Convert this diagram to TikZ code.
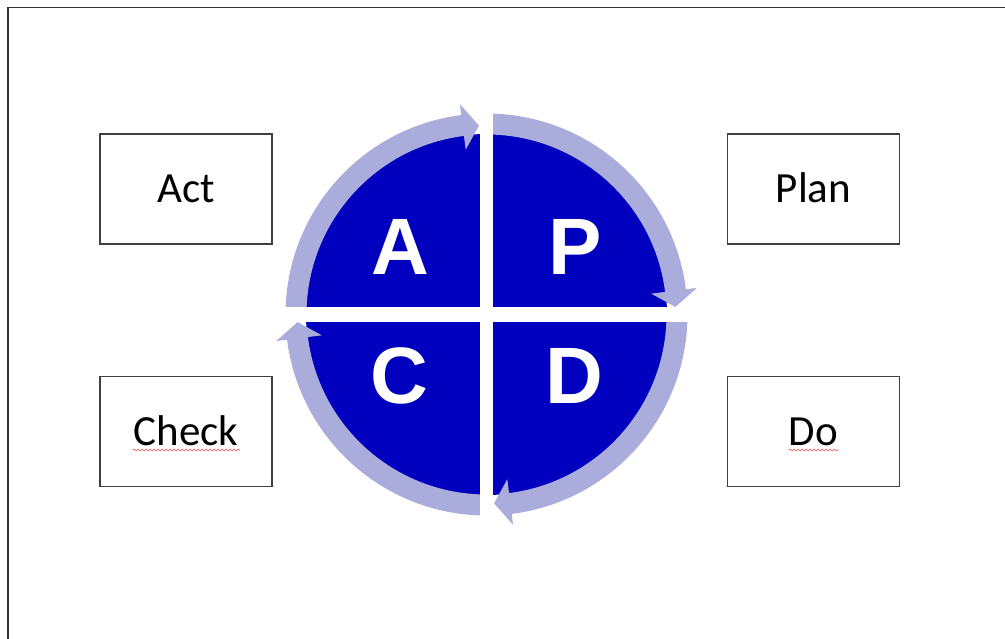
\documentclass[tikz,border=0pt]{standalone}
\usepackage{fontspec}
\setmainfont{Carlito}
\newfontfamily\letterfont{Liberation Sans}
\usetikzlibrary{decorations.pathmorphing}
\definecolor{pdcablue}{HTML}{0000BE}
\definecolor{pdcaband}{HTML}{AAACDC}
\definecolor{boxline}{HTML}{404040}
\definecolor{spellred}{HTML}{E05050}
\tikzset{
  labelbox/.style={draw=boxline, line width=1.2pt, fill=white, minimum width=172pt, minimum height=110pt,
    inner sep=0pt, font=\fontsize{43}{43}\selectfont, text height=27.7pt, text depth=0pt},
  bigletter/.style={text=white, anchor=base, inner sep=0pt, font=\letterfont\bfseries\fontsize{80}{80}\selectfont},
  band/.style={fill=pdcaband, draw=none},
  squiggle/.style={draw=spellred, line width=0.6pt, decorate,
    decoration={snake, segment length=4pt, amplitude=1pt}},
  frameline/.style={draw=black!80, line width=1.5pt}
}
\begin{document}
\begin{tikzpicture}[x=1pt,y=1pt]
\useasboundingbox (0,0) rectangle (1005,-639);
% frame
\draw[frameline] (1005,-7.5) -- (8,-7.5) -- (8,-639);

% cycle circle
\begin{scope}[shift={(486.5,-314.5)}]
  \fill[pdcablue] (0,0) circle (180.5);
  \foreach \s in {181,91,1,-89}{
    \pgfmathsetmacro{\e}{\s-91}
    \pgfmathsetmacro{\hb}{\e+7.2}
    \pgfmathsetmacro{\ht}{\e+2.3}
    \path[band] (\s:180) arc[start angle=\s, end angle=\hb, radius=180]
      -- (\hb:166) -- (\ht:189) -- (\hb:212) -- (\hb:201)
      arc[start angle=\hb, end angle=\s, radius=201] -- cycle;
  }
  % white cross
  \fill[white] (-6.5,230) rectangle (6.5,-230);
  \fill[white] (-230,7.5) rectangle (230,-7.5);
\end{scope}

\node[bigletter] (la) at (400,-275) {A};
\node[bigletter] (lp) at (575,-275) {P};
\node[bigletter] (lc) at (399,-403) {C};
\node[bigletter] (ld) at (574,-403) {D};

% label boxes
\node[labelbox] (act) at (186,-189) {Act};
\node[labelbox] (plan) at (813.5,-189) {Plan};
\node[labelbox] (check) at (186,-431.7) {Check};
\node[labelbox] (do) at (813.5,-431.7) {Do};

% spell-check underlines
\draw[squiggle] (133,-450) -- (240,-450);
\draw[squiggle] (789,-450) -- (839,-450);
\end{tikzpicture}
\end{document}
